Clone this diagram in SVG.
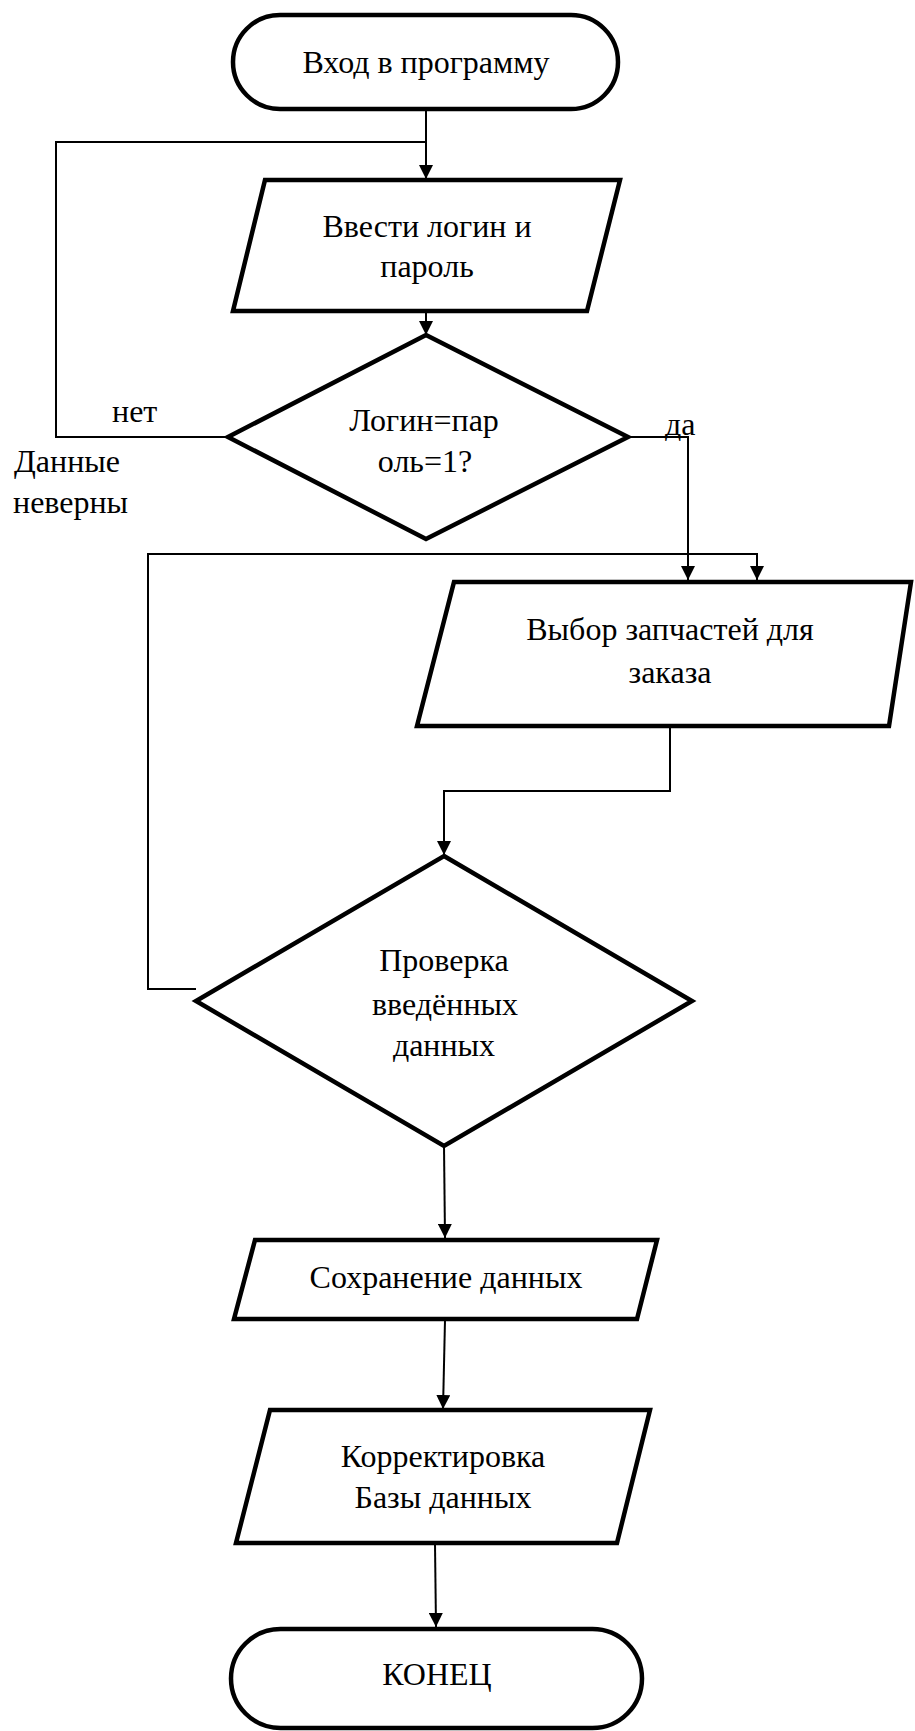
<svg xmlns="http://www.w3.org/2000/svg" width="915" height="1731" viewBox="0 0 915 1731">
<style>
.shape{fill:#fff;stroke:#000;stroke-width:4.5;stroke-linejoin:miter}
.conn{fill:none;stroke:#000;stroke-width:2}
.t{font-family:"Liberation Serif","Times New Roman",serif;font-size:32px;fill:#000;text-anchor:middle}
.l{font-family:"Liberation Serif","Times New Roman",serif;font-size:32px;fill:#000}
</style>
<defs>
<marker id="arr" markerUnits="userSpaceOnUse" markerWidth="14" markerHeight="14" refX="14" refY="7" orient="auto" viewBox="0 0 14 14">
<path d="M0,0 L14,7 L0,14 Z" fill="#000"/>
</marker>
</defs>
<rect width="915" height="1731" fill="#fff"/>
<g id="connectors">
<path class="conn" d="M426,109 L426,179" marker-end="url(#arr)"/>
<path class="conn" d="M228,437 L56,437 L56,142 L426,142"/>
<path class="conn" d="M426,312 L426,335" marker-end="url(#arr)"/>
<path class="conn" d="M628,437 L688,437 L688,580" marker-end="url(#arr)"/>
<path class="conn" d="M196,989 L148,989 L148,554 L757,554 L757,580" marker-end="url(#arr)"/>
<path class="conn" d="M670,727 L670,791 L444,791 L444,855" marker-end="url(#arr)"/>
<path class="conn" d="M444,1146 L445,1238" marker-end="url(#arr)"/>
<path class="conn" d="M445,1320 L443,1409" marker-end="url(#arr)"/>
<path class="conn" d="M435,1544 L436,1627" marker-end="url(#arr)"/>
</g>
<g id="start">
<rect class="shape" x="233" y="15" width="385" height="94" rx="47" ry="47"/>
<text class="t" x="426" y="73">Вход в программу</text>
</g>
<g id="input-login">
<path class="shape" d="M265,180 L620,180 L587,311 L233,311 Z"/>
<text class="t" x="427" y="237">Ввести логин и</text>
<text class="t" x="427" y="277">пароль</text>
</g>
<g id="check-login">
<path class="shape" d="M426,335 L628,437 L426,539 L228,437 Z"/>
<text class="t" x="424" y="431">Логин=пар</text>
<text class="t" x="425" y="472">оль=1?</text>
</g>
<g id="label-no">
<text class="l" x="112" y="422">нет</text>
<text class="l" x="14" y="472">Данные</text>
<text class="l" x="13" y="513">неверны</text>
</g>
<g id="label-yes">
<text class="l" x="665" y="435">да</text>
</g>
<g id="select-parts">
<path class="shape" d="M454,582 L911,582 L889,726 L417,726 Z"/>
<text class="t" x="670" y="640">Выбор запчастей для</text>
<text class="t" x="670" y="683">заказа</text>
</g>
<g id="check-data">
<path class="shape" d="M444,856 L692,1001 L444,1146 L196,1001 Z"/>
<text class="t" x="444" y="971">Проверка</text>
<text class="t" x="445" y="1015">введённых</text>
<text class="t" x="444" y="1056">данных</text>
</g>
<g id="save-data">
<path class="shape" d="M255,1240 L657,1240 L637,1319 L234,1319 Z"/>
<text class="t" x="446" y="1288">Сохранение данных</text>
</g>
<g id="update-db">
<path class="shape" d="M270,1410 L650,1410 L617,1543 L236,1543 Z"/>
<text class="t" x="443" y="1467">Корректировка</text>
<text class="t" x="443" y="1508">Базы данных</text>
</g>
<g id="end">
<rect class="shape" x="231" y="1629" width="411" height="99" rx="49.5" ry="49.5"/>
<text class="t" x="437" y="1685">КОНЕЦ</text>
</g>
</svg>
